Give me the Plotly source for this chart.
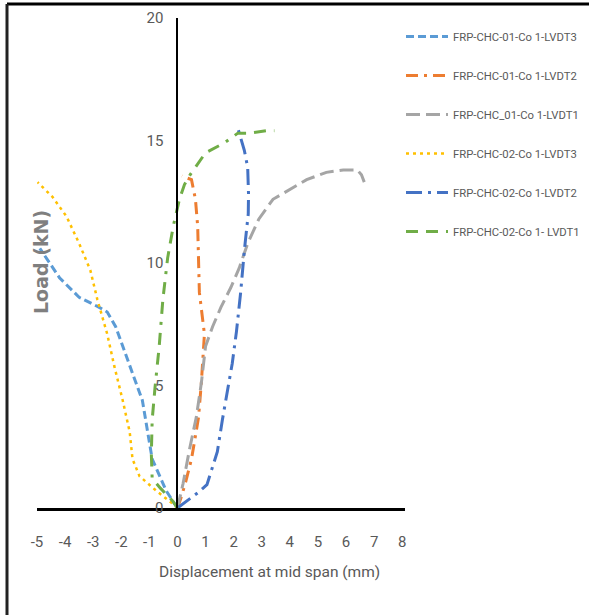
import plotly.graph_objects as go

# Load–displacement readings (displacement in mm, load in kN)
names = [
    "FRP-CHC-01-Co 1-LVDT3",
    "FRP-CHC-01-Co 1-LVDT2",
    "FRP-CHC_01-Co 1-LVDT1",
    "FRP-CHC-02-Co 1-LVDT3",
    "FRP-CHC-02-Co 1-LVDT2",
    "FRP-CHC-02-Co 1- LVDT1",
]

c01_lvdt3_x = [0, -0.4, -0.9, -1.1, -1.25, -1.6, -1.95, -2.2, -2.5, -2.8, -3.5, -4.2, -4.9]
c01_lvdt3_y = [0, 0.7, 2.0, 3.3, 4.4, 5.5, 6.6, 7.4, 8.0, 8.2, 8.6, 9.4, 10.6]

c01_lvdt2_x = [0, 0.15, 0.3, 0.5, 0.62, 0.75, 0.85, 0.93, 0.96, 0.78, 0.75, 0.72, 0.64, 0.5, 0.16]
c01_lvdt2_y = [0, 0.5, 1.1, 2.0, 2.8, 3.7, 5.1, 6.3, 7.1, 8.8, 10.2, 11.5, 12.6, 13.4, 13.55]

c01_lvdt1_x = [0, 0.2, 0.43, 0.67, 0.85, 1.0, 1.25, 1.55, 1.9, 2.2, 2.5, 2.9, 3.4, 4.0, 4.6, 5.3, 5.9, 6.4, 6.55, 6.65]
c01_lvdt1_y = [0, 1.0, 2.4, 3.7, 5.1, 6.6, 7.4, 8.2, 9.0, 9.8, 10.8, 11.8, 12.6, 13.0, 13.4, 13.7, 13.8, 13.8, 13.6, 13.3]

c02_lvdt3_x = [0, -0.2, -0.75, -1.35, -1.6, -1.7, -1.95, -2.25, -2.5, -2.85, -3.1, -3.5, -3.95, -4.45, -4.98]
c02_lvdt3_y = [0, 0.2, 0.7, 1.3, 2.0, 3.1, 4.4, 5.8, 7.1, 8.5, 9.7, 10.8, 11.9, 12.7, 13.3]

c02_lvdt2_x = [0, 0.35, 0.7, 1.05, 1.42, 1.6, 1.78, 1.95, 2.1, 2.25, 2.38, 2.45, 2.52, 2.53, 2.5, 2.38, 2.15]
c02_lvdt2_y = [0, 0.3, 0.6, 0.95, 2.3, 3.6, 4.7, 5.9, 7.2, 8.8, 10.5, 11.2, 12.0, 12.8, 13.9, 14.6, 15.5]

c02_lvdt1_x = [0, -0.18, -0.6, -0.9, -0.93, -0.9, -0.8, -0.65, -0.52, -0.35, -0.15, 0.07, 0.25, 0.45, 1.0, 1.67, 2.15, 2.55, 3.15, 3.45]
c02_lvdt1_y = [0, 0.3, 0.8, 1.2, 2.2, 3.6, 4.9, 6.6, 8.5, 10.2, 11.5, 12.6, 13.2, 13.6, 14.5, 14.9, 15.3, 15.3, 15.4, 15.4]

x_ticks = list(range(-5, 9))
x_tick_text = [str(v) for v in x_ticks]  # plain hyphen for negatives
y_ticks = [0, 5, 10, 15, 20]

series = [
    (c01_lvdt3_x, c01_lvdt3_y, "#5B9BD5", "8px,4px", 3),
    (c01_lvdt2_x, c01_lvdt2_y, "#ED7D31", "12px,6px,3px,6px", 3),
    (c01_lvdt1_x, c01_lvdt1_y, "#A5A5A5", "14px,6px", 3),
    (c02_lvdt3_x, c02_lvdt3_y, "#FFC000", "3px,4px", 2.5),
    (c02_lvdt2_x, c02_lvdt2_y, "#4472C4", "16px,6px,3px,6px", 3),
    (c02_lvdt1_x, c02_lvdt1_y, "#70AD47", "12px,8px,12px,8px,3px,8px", 3),
]

fig = go.Figure()
for name, (xs, ys, color, dash, w) in zip(names, series):
    fig.add_trace(go.Scatter(
        x=xs, y=ys, mode="lines", name=name, legendgroup=name,
        line=dict(color=color, width=w, dash=dash),
    ))

font_main = "Roboto, Liberation Sans, sans-serif"
X0, X1 = -5, 8.1
L, R, T, B = 37, 184, 18, 107
W, H = 589, 615
pw, ph = W - L - R, H - T - B


def px_x(p):
    return (p - L) / pw


def px_y(p):
    return (H - B - p) / ph


fig.update_layout(
    width=W, height=H,
    margin=dict(l=L, r=R, t=T, b=B, autoexpand=False),
    paper_bgcolor="white", plot_bgcolor="white",
    showlegend=True,
    legend=dict(
        x=px_x(401), y=px_y(22), xanchor="left", yanchor="top",
        font=dict(family=font_main, size=11.3, color="#595959"),
        tracegroupgap=20, itemwidth=42, bgcolor="rgba(0,0,0,0)",
    ),
    xaxis=dict(
        range=[X0, X1], tickvals=x_ticks, ticktext=x_tick_text,
        showgrid=False, zeroline=False,
        showline=True, linecolor="black", linewidth=3,
        ticks="", ticklabelstandoff=18,
        tickfont=dict(family=font_main, size=15, color="#595959"),
    ),
    yaxis=dict(
        range=[0, 20], tickvals=y_ticks, showgrid=False, zeroline=False,
        anchor="free", position=(0 - X0) / (X1 - X0),
        showline=True, linecolor="black", linewidth=2,
        ticks="", ticklabelstandoff=10,
        tickfont=dict(family=font_main, size=15, color="#595959"),
    ),
    annotations=[
        dict(text="Displacement at mid span (mm)", xref="paper", yref="paper",
             x=px_x(269), y=px_y(583), showarrow=False,
             font=dict(family=font_main, size=15.5, color="#595959")),
        dict(text="<b>Load (kN)</b>", xref="paper", yref="paper",
             x=px_x(28), y=px_y(262), showarrow=False, textangle=-90,
             font=dict(family="DejaVu Sans", size=19, color="#7F7F7F")),
    ],
    shapes=[
        dict(type="line", xref="paper", yref="paper",
             x0=px_x(7), x1=px_x(W + 5), y0=px_y(4), y1=px_y(4),
             line=dict(color="black", width=3)),
        dict(type="line", xref="paper", yref="paper",
             x0=px_x(7), x1=px_x(7), y0=px_y(4), y1=px_y(H + 5),
             line=dict(color="#222222", width=3)),
    ],
)

fig.write_html("out.html")
